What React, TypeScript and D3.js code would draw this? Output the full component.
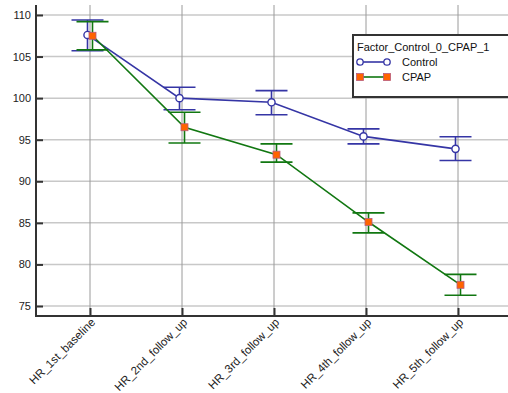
import React, { useEffect, useRef } from 'react';
import * as d3 from 'd3';

const categories = ['HR_1st_baseline', 'HR_2nd_follow_up', 'HR_3rd_follow_up', 'HR_4th_follow_up', 'HR_5th_follow_up'];

const controlMean = [107.6, 100.0, 99.5, 95.4, 93.9];
const controlLow = [105.7, 98.6, 98.0, 94.5, 92.5];
const controlHigh = [109.4, 101.3, 100.9, 96.3, 95.35];

const cpapMean = [107.5, 96.5, 93.2, 85.1, 77.55];
const cpapLow = [105.8, 94.6, 92.3, 83.8, 76.3];
const cpapHigh = [109.2, 98.3, 94.5, 86.2, 78.8];

const yTicks = [75, 80, 85, 90, 95, 100, 105, 110];

const legendTitle = 'Factor_Control_0_CPAP_1';
const seriesNames = ['Control', 'CPAP'];

export default function App() {
  const ref = useRef<SVGSVGElement>(null);

  useEffect(() => {
    const svg = d3.select(ref.current);
    svg.selectAll('*').remove();

    const width = 508;
    const left = 36;
    const bottom = 316;
    const top = 5;
    const font = 'Liberation Sans, Arial, sans-serif';

    const x = d3.scalePoint<string>().domain(categories).range([90, 458]);
    const y = d3.scaleLinear().domain([73.8, 111.2]).range([bottom, top]);

    // horizontal grid
    svg.append('g')
      .selectAll('line')
      .data(yTicks)
      .join('line')
      .attr('x1', left).attr('x2', width)
      .attr('y1', d => y(d)).attr('y2', d => y(d))
      .attr('stroke', '#c8c8c8').attr('stroke-width', 1.5);

    // vertical grid
    svg.append('g')
      .selectAll('line')
      .data(categories)
      .join('line')
      .attr('x1', d => x(d)!).attr('x2', d => x(d)!)
      .attr('y1', top).attr('y2', bottom)
      .attr('stroke', '#9a9a9a').attr('stroke-width', 1);

    // y axis
    const ya = svg.append('g').attr('transform', `translate(${left},0)`)
      .call(d3.axisRight(y).tickValues(yTicks).tickSize(7).tickFormat(d3.format('d')));
    ya.select('.domain').remove();
    ya.selectAll('.tick line').attr('stroke', '#333').attr('stroke-width', 2);
    ya.selectAll('.tick text')
      .attr('x', -5).attr('text-anchor', 'end')
      .attr('font-family', font).attr('font-size', 11).attr('fill', '#222');

    // x axis
    const xa = svg.append('g').attr('transform', `translate(0,${bottom})`)
      .call(d3.axisTop(x).tickSize(8).tickFormat(() => ''));
    xa.select('.domain').remove();
    xa.selectAll('.tick line').attr('stroke', '#333').attr('stroke-width', 2);

    svg.append('g')
      .selectAll('text')
      .data(categories)
      .join('text')
      .attr('transform', d => `translate(${x(d)! + 6},${bottom + 7}) rotate(-45)`)
      .attr('text-anchor', 'end')
      .attr('font-family', font).attr('font-size', 11.5).attr('fill', '#222')
      .text(d => d);

    // axis lines
    svg.append('path')
      .attr('d', `M${left},${top}V${bottom}H${width}`)
      .attr('fill', 'none').attr('stroke', '#333').attr('stroke-width', 2);

    const series = [
      { name: 'Control', mean: controlMean, low: controlLow, high: controlHigh, color: '#3535a5', dx: -2.5 },
      { name: 'CPAP', mean: cpapMean, low: cpapLow, high: cpapHigh, color: '#117711', dx: 2.5 },
    ];

    series.forEach(s => {
      const g = svg.append('g');
      const cx = (i: number) => x(categories[i])! + s.dx;
      const line = d3.line<number>().x((d, i) => cx(i)).y(d => y(d));
      g.append('path')
        .datum(s.mean)
        .attr('d', line)
        .attr('fill', 'none').attr('stroke', s.color).attr('stroke-width', 1.6);

      s.mean.forEach((m, i) => {
        const px = cx(i);
        g.append('line').attr('x1', px).attr('x2', px)
          .attr('y1', y(s.low[i])).attr('y2', y(s.high[i]))
          .attr('stroke', s.color).attr('stroke-width', 1.6);
        [s.low[i], s.high[i]].forEach(v => {
          g.append('line').attr('x1', px - 16).attr('x2', px + 16)
            .attr('y1', y(v)).attr('y2', y(v))
            .attr('stroke', s.color).attr('stroke-width', 1.6);
        });
      });

      if (s.name === 'Control') {
        g.selectAll('circle').data(s.mean).join('circle')
          .attr('cx', (d, i) => cx(i)).attr('cy', d => y(d)).attr('r', 3.6)
          .attr('fill', '#fff').attr('stroke', s.color).attr('stroke-width', 1.4);
      } else {
        g.selectAll('rect').data(s.mean).join('rect')
          .attr('x', (d, i) => cx(i) - 3.5).attr('y', d => y(d) - 3.5)
          .attr('width', 7).attr('height', 7)
          .attr('fill', '#ff6400').attr('stroke', '#b85a7a').attr('stroke-width', 0.8);
      }
    });

    // legend
    const lg = svg.append('g').attr('transform', 'translate(353,35)');
    lg.append('rect').attr('x', 0).attr('y', 0).attr('width', 170).attr('height', 62)
      .attr('fill', '#fff').attr('stroke', '#333').attr('stroke-width', 2);
    lg.append('text').attr('x', 4).attr('y', 16)
      .attr('font-family', font).attr('font-size', 11).attr('fill', '#111').text(legendTitle);
    seriesNames.forEach((n, i) => {
      const s = series[i];
      const ly = 27 + i * 15;
      lg.append('line').attr('x1', 7).attr('x2', 34).attr('y1', ly).attr('y2', ly)
        .attr('stroke', s.color).attr('stroke-width', 1.6);
      [7, 34].forEach(px => {
        if (i === 0) {
          lg.append('circle').attr('cx', px).attr('cy', ly).attr('r', 3.2)
            .attr('fill', '#fff').attr('stroke', s.color).attr('stroke-width', 1.3);
        } else {
          lg.append('rect').attr('x', px - 3.5).attr('y', ly - 3.5).attr('width', 7).attr('height', 7)
            .attr('fill', '#ff6400').attr('stroke', '#b85a7a').attr('stroke-width', 0.8);
        }
      });
      lg.append('text').attr('x', 49).attr('y', ly + 4)
        .attr('font-family', font).attr('font-size', 11).attr('fill', '#111').text(n);
    });
  }, []);

  return (
    <svg ref={ref} width={508} height={393}
      style={{ position: 'absolute', left: 0, top: 0, background: '#fff' }} />
  );
}
